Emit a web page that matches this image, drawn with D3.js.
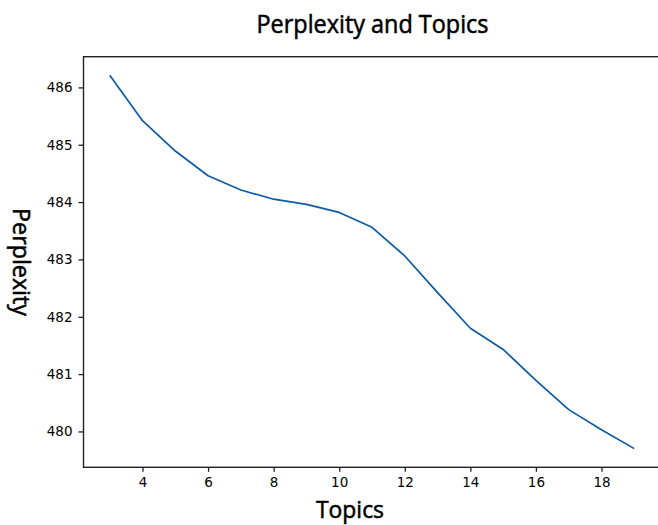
<!DOCTYPE html>
<html>
<head>
<meta charset="utf-8">
<script src="https://cdn.jsdelivr.net/npm/d3@7"></script>
<style>
  body { margin: 0; background: #fff; }
  svg { display: block; }
</style>
</head>
<body>
<svg id="chart" width="658" height="525"></svg>
<script>
// Number of topics and the model perplexity measured for each
const topics = [3, 4, 5, 6, 7, 8, 9, 10, 11, 12, 13, 14, 15, 16, 17, 18, 19];
const perplexity = [486.21, 485.42, 484.89, 484.46, 484.21, 484.05, 483.96, 483.82,
                    483.56, 483.06, 482.42, 481.80, 481.43, 480.89, 480.38, 480.03, 479.70];
const xTickValues = [4, 6, 8, 10, 12, 14, 16, 18];
const yTickValues = [480, 481, 482, 483, 484, 485, 486];

const titleText = "Perplexity and Topics";
const xLabelText = "Topics";
const yLabelText = "Perplexity";

const svg = d3.select("#chart");
const plot = { left: 83.5, right: 660.5, top: 56.7, bottom: 467.3 };

// Axis limits padded by 5% of the data span on each side
const pad = (lo, hi) => { const s = hi - lo; return [lo - 0.05 * s, hi + 0.05 * s]; };
const x = d3.scaleLinear()
  .domain(pad(d3.min(topics), d3.max(topics)))
  .range([plot.left, plot.right]);
const y = d3.scaleLinear()
  .domain(pad(d3.min(perplexity), d3.max(perplexity)))
  .range([plot.bottom, plot.top]);

const tickFont = "'DejaVu Sans', sans-serif";
const labelFont = "'Open Sans', 'Noto Sans', sans-serif";

// Data line
const line = d3.line()
  .x((d, i) => x(topics[i]))
  .y(d => y(d));

svg.append("path")
  .datum(perplexity)
  .attr("fill", "none")
  .attr("stroke", "#0d5ba6")
  .attr("stroke-width", 1.7)
  .attr("stroke-linejoin", "round")
  .attr("d", line);

// Axes frame
svg.append("rect")
  .attr("x", plot.left).attr("y", plot.top)
  .attr("width", plot.right - plot.left)
  .attr("height", plot.bottom - plot.top)
  .attr("fill", "none")
  .attr("stroke", "#222")
  .attr("stroke-width", 1.4);

// Ticks
const xAxis = svg.append("g")
  .attr("transform", `translate(0,${plot.bottom})`)
  .call(d3.axisBottom(x).tickValues(xTickValues).tickSize(4.5).tickPadding(6).tickFormat(d3.format("d")));
const yAxis = svg.append("g")
  .attr("transform", `translate(${plot.left},0)`)
  .call(d3.axisLeft(y).tickValues(yTickValues).tickSize(5).tickPadding(6).tickFormat(d3.format("d")));

[xAxis, yAxis].forEach(g => {
  g.select(".domain").remove();
  g.selectAll(".tick line").attr("stroke", "#222").attr("stroke-width", 1.3);
  g.selectAll(".tick text")
    .attr("fill", "#000")
    .style("font-family", tickFont)
    .style("font-size", "13.5px");
});

// Fit a text element to a given width, with a slight outline for extra weight
function styleLabel(sel, width) {
  sel.attr("textLength", width).attr("lengthAdjust", "spacingAndGlyphs")
    .style("font-family", labelFont)
    .style("font-weight", 400)
    .attr("fill", "#000")
    .attr("stroke", "#000")
    .attr("stroke-width", 0.55);
  return sel;
}

// Title
styleLabel(svg.append("text")
  .attr("x", 372.5).attr("y", 33)
  .attr("text-anchor", "middle")
  .style("font-size", "25px")
  .text(titleText), 232);

// X axis label
styleLabel(svg.append("text")
  .attr("x", 350).attr("y", 517.5)
  .attr("text-anchor", "middle")
  .style("font-size", "24px")
  .text(xLabelText), 68);

// Y axis label, reading top to bottom
styleLabel(svg.append("text")
  .attr("transform", "translate(13,262) rotate(90)")
  .attr("text-anchor", "middle")
  .style("font-size", "24px")
  .text(yLabelText), 108);
</script>
</body>
</html>
